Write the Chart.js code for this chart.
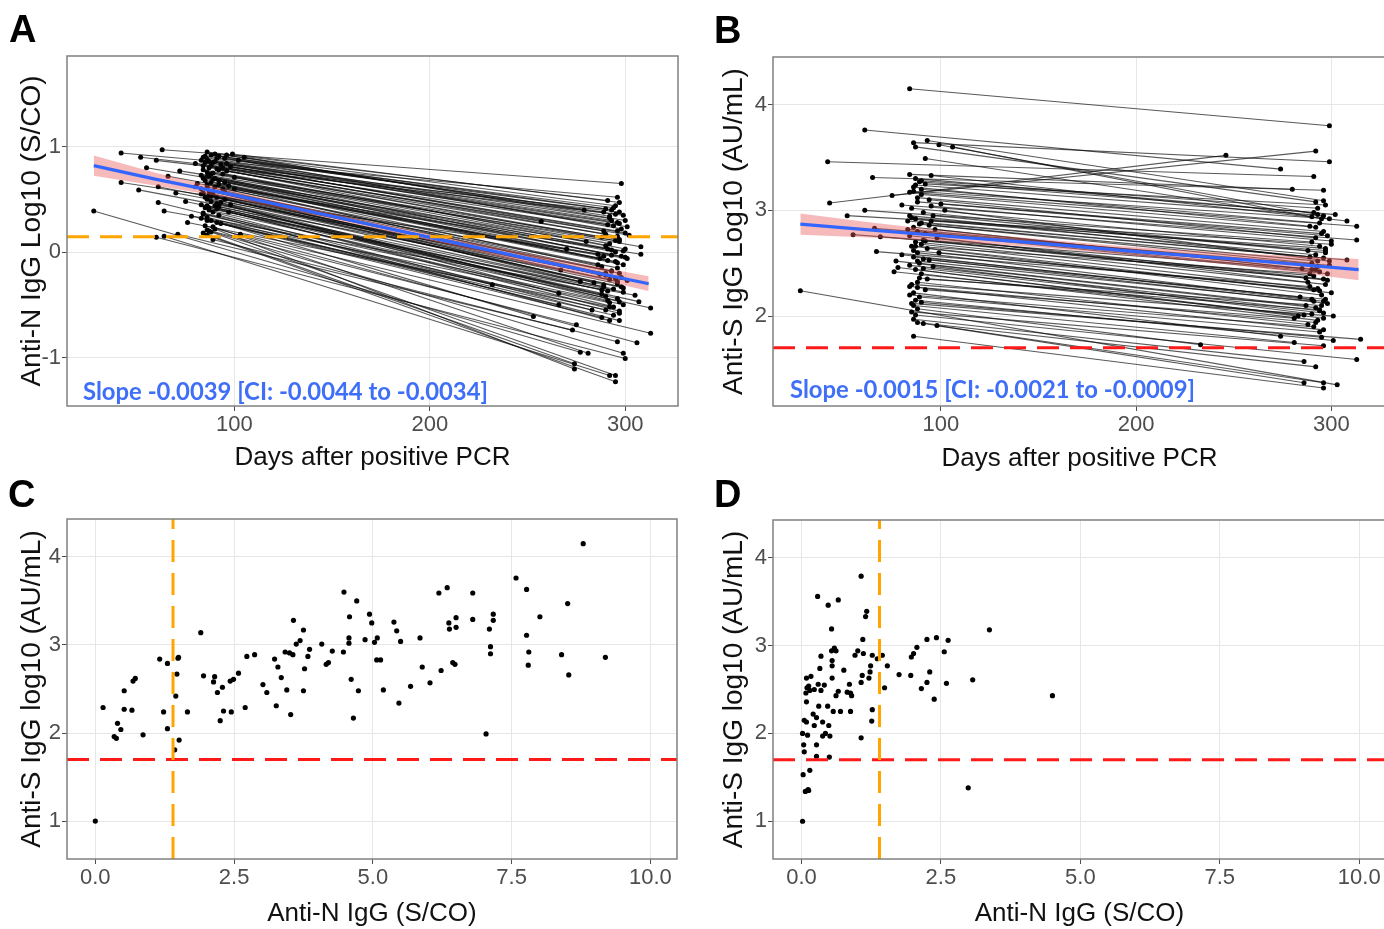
<!DOCTYPE html>
<html><head><meta charset="utf-8">
<script src="https://cdn.jsdelivr.net/npm/chart.js@4.4.1/dist/chart.umd.min.js"></script>
<style>
html,body{margin:0;padding:0;background:#fff;overflow:hidden;width:1384px;height:929px;position:relative;}
canvas{position:absolute;}
.lbl{position:absolute;font-family:'Liberation Sans',Arial,sans-serif;font-weight:bold;font-size:38px;line-height:1;color:#000;z-index:5;}
</style></head><body>
<canvas id="cA" width="700" height="475" style="left:0;top:0"></canvas>
<canvas id="cB" width="690" height="475" style="left:700px;top:0"></canvas>
<canvas id="cC" width="700" height="459" style="left:0;top:470px"></canvas>
<canvas id="cD" width="690" height="459" style="left:700px;top:470px"></canvas>
<div class="lbl" style="left:9px;top:10px">A</div>
<div class="lbl" style="left:714px;top:11px">B</div>
<div class="lbl" style="left:8px;top:475px">C</div>
<div class="lbl" style="left:714px;top:475px">D</div>
<script>
// ---------- Panel A: anti-N IgG (log10 S/CO), paired samples ----------
const aDay1 = [63,42,99,86,88,52,84,92,60,86, 95,90,80,102,85,88,93,72,87,98, 84,91,86,89,96,83,42,81,87,94, 90,100,51,61,85,88,92,86,97,83,
  89,61,84,95,87,91,86,64,88,93, 83,90,85,98,87,76,89,84,92,86, 88,91,86,71,103,85,28,89,87,60, 84,90,64,88,86,90,83,96,88,84,
  92,86,94,89,85,91,87,83,93,89, 55,66,70,75,78,105,100,97,80,84, 91,87,95,86,92,
  85,89,94,86,90,88,92,84,95,87, 83,91,96,89,86];
const aVal1 = [0.97,0.94,0.93,0.95,0.92,0.90,0.90,0.91,0.87,0.88, 0.89,0.86,0.84,0.87,0.85,0.82,0.83,0.77,0.80,0.81,
  0.78,0.79,0.76,0.75,0.77,0.73,0.66,0.65,0.72,0.74, 0.70,0.71,0.59,0.62,0.68,0.66,0.64,0.62,0.63,0.60,
  0.58,0.47,0.56,0.57,0.54,0.52,0.50,0.39,0.48,0.47, 0.45,0.44,0.42,0.45,0.40,0.28,0.38,0.36,0.35,0.33,
  0.30,0.28,0.21,0.17,0.17,0.25,0.39,0.24,0.20,0.14, 0.18,0.22,0.15,0.19,0.16,0.93,0.87,0.84,0.74,0.70,
  0.68,0.64,0.60,0.55,0.52,0.46,0.42,0.32,0.27,0.12, 0.80,0.72,0.56,0.48,0.34,0.90,0.60,0.38,0.62,0.82, 0.89,0.58,0.50,0.44,0.78,
  0.91,0.85,0.80,0.72,0.62,0.53,0.43,0.37,0.66,0.86, 0.55,0.41,0.92,0.69,0.30];
const aDay2 = [298,296,297,291,290,297,292,279,295,293, 289,296,257,298,300,294,302,295,288,296, 292,300,308,291,297,270,301,308,295,290,
  298,293,267,287,296,291,299,295,288,277, 284,232,293,297,290,296,266,305,291,297, 307,294,299,289,313,292,283,297,292,297,
  253,266,275,273,313,306,277,281,299,300, 274,274,292,295,295,295,299,291,297,293, 300,289,296,292,298,290,296,294,290,296,
  280,286,290,288,292,300,298,294,286,289, 293,301,299,288,296,
  294,297,290,299,293,296,291,299,287,301, 289,297,292,295,288];
const aVal2 = [0.65,0.52,0.47,0.49,0.41,0.38,0.32,0.40,0.36,0.30, 0.38,0.28,0.29,0.22,0.18,0.25,0.16,0.11,0.14,0.20,
  0.08,0.03,0.05,0.03,0.10,0.03,-0.06,-0.02,0.00,0.06, -0.04,-0.03,-0.17,-0.21,-0.10,-0.08,-0.12,-0.25,-0.14,-0.28,
  -0.29,-0.31,-0.18,-0.20,-0.22,-0.30,-0.39,-0.41,-0.46,-0.47, -0.47,-0.35,-0.38,-0.33,-0.53,-0.52,-0.55,-0.58,-0.65,-0.65,
  -0.61,-0.50,-0.69,-0.74,-0.77,-0.86,-0.95,-0.96,-0.96,-1.01, -1.06,-1.11,-1.17,-1.17,-1.23,0.44,0.35,0.26,0.12,0.02,
  -0.05,-0.04,-0.15,-0.26,-0.33,-0.42,-0.44,-0.60,-0.55,-0.85, 0.10,-0.02,-0.20,-0.36,-0.48,0.30,-0.24,-0.52,-0.12,0.20,
  0.40,-0.27,-0.34,-0.40,0.15,
  0.42,0.27,0.17,0.01,-0.18,-0.28,-0.37,-0.50,-0.06,0.24, -0.31,-0.56,0.34,-0.09,-0.62];
const regADays = [28,60,100,150,200,250,312];
const regAFit  = [0.82,0.69,0.54,0.34,0.14,-0.06,-0.30];
const regALo   = [0.725,0.63,0.505,0.315,0.11,-0.105,-0.37];
const regAHi   = [0.915,0.75,0.575,0.365,0.17,-0.015,-0.23];
const cutoffNLog = 0.146;   // log10(1.4)
const aTicksX = [100,200,300];
const aTicksY = [-1,0,1];
const slopeA = 'Slope -0.0039 [CI: -0.0044 to -0.0034]';

// ---------- Panel B: anti-S IgG (log10 AU/mL), paired samples ----------
const bDay1 = [84,61,42,86,87,93,99,106,92,43, 75,65,84,87,89,92,95,86,90,84, 88,94,100,80,61,85,91,96,52,87,
  83,90,94,66,86,88,92,69,84,98, 55,87,90,85,67,93,88,80,86,91, 77,89,84,78,96,87,76,90,85,88,
  92,86,84,89,87,85,86,88,85,87, 86,88,91,98,86,28,88,93,99,95, 84,88,102,91,83,94,90,86,97,89,
  87,90,85,89,92,86,88,91,84,90, 95,87];
const bVal1 = [4.15,3.76,3.46,3.64,3.60,3.66,3.62,3.60,3.49,3.07, 3.14,3.31,3.34,3.30,3.27,3.25,3.33,3.22,3.20,3.17,
  3.12,3.10,3.06,3.05,3.00,3.02,2.98,2.95,2.95,2.92, 2.90,2.88,2.86,2.83,2.84,2.80,2.78,2.75,2.76,2.74,
  2.77,2.70,2.68,2.66,2.61,2.64,2.60,2.58,2.56,2.54, 2.52,2.50,2.48,2.46,2.47,2.44,2.42,2.40,2.30,2.27,
  2.25,2.22,2.20,2.18,2.15,2.12,2.10,2.07,2.04,2.01, 1.97,1.94,1.93,1.91,1.81,2.24,2.32,2.35,2.60,2.90,
  2.95,3.08,3.00,2.72,2.82,2.53,3.28,3.18,2.82,2.36,
  3.24,3.15,2.93,2.87,2.71,2.62,2.52,2.45,2.28,2.13, 3.04,2.66];
const bDay2 = [299,274,291,299,292,296,293,295,290,246, 292,296,280,302,291,297,308,289,294,313, 296,292,298,313,290,294,288,297,300,292,
  308,296,290,299,285,294,298,291,296,288, 292,297,293,300,289,295,290,296,284,298, 292,287,294,283,290,296,286,293,301,296,
  281,274,291,294,301,315,281,233,296,313, 286,292,296,286,296,303,288,295,291,297, 289,295,299,287,293,297,293,299,290,294,
  296,292,297,293,298,294,291,296,292,295, 300,289];
const bVal2 = [3.80,3.39,3.32,3.46,3.08,3.09,2.96,2.92,2.94,3.52, 3.56,3.19,3.20,2.96,2.98,3.05,2.90,2.85,2.88,2.85,
  2.80,2.74,2.76,2.72,2.70,2.66,2.62,2.60,2.68,2.58, 2.53,2.55,2.50,2.48,2.45,2.42,2.40,2.38,2.35,2.32,
  2.44,2.30,2.26,2.22,2.28,2.20,2.16,2.14,2.18,2.12, 2.08,2.10,2.05,2.00,2.02,1.98,2.01,1.96,2.00,1.87,
  1.98,1.81,1.90,1.85,1.77,1.78,1.75,1.73,1.72,1.59, 1.57,1.52,1.37,1.37,1.32,1.35,1.92,2.10,2.25,2.64,
  2.56,2.78,2.52,2.36,2.47,2.16,3.02,2.92,2.44,2.06,
  2.95,2.84,2.62,2.52,2.34,2.24,2.14,2.03,1.94,1.80, 2.71,2.40];
const regBDays = [28,60,100,150,200,250,314];
const regBFit  = [2.87,2.82,2.76,2.69,2.61,2.54,2.44];
const regBLo   = [2.77,2.745,2.71,2.65,2.57,2.485,2.34];
const regBHi   = [2.97,2.895,2.81,2.73,2.65,2.595,2.54];
const cutoffSLog = 1.7;    // log10(50)
const bTicksX = [100,200,300];
const bTicksY = [2,3,4];
const slopeB = 'Slope -0.0015 [CI: -0.0021 to -0.0009]';

// ---------- Panel C: anti-S vs anti-N, first sample ----------
const cX = [0.00,0.14,0.34,0.38,0.40,0.46,0.52,0.52,0.66,0.68,0.72,0.86,1.16,1.23,1.30,1.30,1.43,1.45,1.47,1.49,1.50,1.51,1.66,
  1.90,1.95,2.13,2.15,2.20,2.25,2.29,2.31,2.43,2.45,2.49,2.58,2.70,2.73,2.87,3.02,3.09,3.23,3.26,3.29,3.35,3.42,3.45,3.50,3.52,
  3.56,3.57,3.62,3.69,3.75,3.75,3.77,3.83,3.86,4.08,4.16,4.20,4.27,4.47,4.48,4.57,4.57,4.58,4.61,4.65,4.71,4.74,4.86,4.94,4.98,
  5.03,5.08,5.07,5.14,5.19,5.38,5.43,5.47,5.50,5.68,5.85,5.89,6.03,6.19,6.23,6.34,6.37,6.38,6.44,6.48,6.50,6.50,6.80,6.80,
  7.04,7.10,7.12,7.12,7.17,7.17,7.58,7.77,7.77,7.81,7.80,8.01,8.40,8.51,8.53,8.79,9.19];
const cY = [1.00,2.29,1.96,1.94,2.11,2.04,2.48,2.27,2.26,2.59,2.62,1.98,2.84,2.24,2.05,2.79,1.81,2.42,2.67,2.85,2.86,1.92,2.24,
  3.14,2.65,2.58,2.64,2.46,2.14,2.52,2.25,2.59,2.24,2.61,2.68,2.29,2.87,2.89,2.55,2.46,2.84,2.31,2.75,2.63,2.92,2.49,2.91,2.21,
  2.89,3.28,3.01,3.05,3.17,2.48,2.73,2.87,2.95,3.01,2.78,2.80,2.93,2.92,3.60,3.02,3.08,3.32,2.61,2.17,3.50,2.48,3.06,3.35,3.25,
  3.03,3.08,2.83,2.83,2.49,3.26,3.16,2.34,3.04,2.53,3.08,2.75,2.57,3.59,2.71,3.65,3.25,3.18,2.80,2.78,3.31,3.20,3.59,3.29,
  1.99,3.18,2.98,2.90,3.35,3.28,3.76,3.63,3.11,2.92,2.77,3.32,2.89,3.47,2.66,4.15,2.86];

// ---------- Panel D: anti-S vs anti-N, second sample ----------
const dX = [0.02,0.03,0.07,0.12,0.13,0.15,0.05,0.04,0.02,0.05,0.09,0.11,0.09,0.08,0.10,0.13,0.09,0.17,0.15,0.23,0.21,0.23,0.27,
  0.27,0.27,0.31,0.29,0.30,0.33,0.35,0.35,0.38,0.38,0.41,0.43,0.48,0.47,0.49,0.51,0.50,0.54,0.54,0.55,0.55,0.55,0.57,0.59,0.62,
  0.62,0.66,0.66,0.70,0.76,0.82,0.88,0.88,0.86,0.90,0.96,1.01,1.07,1.07,1.07,1.09,1.10,1.11,1.15,1.17,1.21,1.23,1.24,1.26,1.27,
  1.27,1.36,1.45,1.49,1.54,1.75,1.96,1.97,2.01,2.07,2.15,2.25,2.25,2.30,2.38,2.42,2.56,2.60,2.63,2.99,3.07,3.37,4.50];
const dY = [1.00,1.53,1.34,1.36,1.35,1.58,1.79,1.87,2.00,2.15,2.13,1.98,2.36,2.46,2.52,2.54,2.63,2.65,2.49,2.50,2.22,2.09,1.87,
  1.74,2.18,2.31,3.56,2.56,2.74,2.88,2.49,2.13,1.97,2.55,2.00,3.46,2.31,2.09,1.97,1.73,3.19,2.94,2.83,2.77,2.63,2.25,2.97,2.94,
  2.43,3.52,2.48,2.25,2.72,2.47,2.46,2.25,2.56,2.43,2.89,2.94,3.79,1.95,2.58,2.66,3.07,2.91,3.33,3.39,2.63,2.70,2.77,2.14,2.27,
  2.89,2.85,2.89,2.52,2.77,2.67,2.66,2.87,2.91,2.98,2.51,3.07,2.58,2.70,2.39,3.09,2.93,2.57,3.06,1.38,2.61,3.18,2.43];
const cutoffN = 1.4;
const cdTicksX = [0,2.5,5,7.5,10];
const cdTicksY = [1,2,3,4];

// ---------- helpers ----------
Chart.defaults.font.family = "'Liberation Sans', Arial, sans-serif";
Chart.defaults.animation = false;

const boxPlugin = {
  id: 'box',
  afterDraw(chart, args, opts) {
    const {ctx, chartArea: a} = chart;
    ctx.save();
    ctx.strokeStyle = '#808080';
    ctx.lineWidth = 1.5;
    ctx.strokeRect(a.left, a.top, a.right - a.left, a.bottom - a.top);
    if (opts.text) {
      ctx.font = "bold 20px Lato, 'Open Sans', sans-serif";
      const w = ctx.measureText(opts.text).width;
      const size = 20 * opts.width / w;
      ctx.font = "bold " + size.toFixed(2) + "px Lato, 'Open Sans', sans-serif";
      ctx.fillStyle = '#3f6ff8';
      ctx.textBaseline = 'alphabetic';
      ctx.textAlign = 'left';
      ctx.fillText(opts.text, a.left + opts.dx, a.bottom - opts.dy);
    }
    ctx.restore();
  }
};

function axis(min, max, ticks, fmt, title, titleSize, titlePad, size, isX) {
  return {
    type: 'linear', min, max,
    afterBuildTicks: s => { s.ticks = ticks.map(v => ({value: v})); },
    afterFit: s => { if (isX) s.height = size; else s.width = size; },
    ticks: {font: {size: 22}, color: '#4d4d4d', padding: 1, callback: fmt, maxRotation: 0, autoSkip: false},
    grid: {color: '#e6e6e6', lineWidth: 1, tickColor: '#4d4d4d', tickLength: 5, drawTicks: true},
    border: {display: false},
    title: {display: true, text: title, font: {size: titleSize}, color: '#111', padding: titlePad}
  };
}

function pairSets(d1, v1, d2, v2) {
  return d1.map((_, i) => ({
    data: [{x: d1[i], y: v1[i]}, {x: d2[i], y: v2[i]}],
    borderColor: 'rgba(10,10,10,0.68)', borderWidth: 1.1, pointRadius: 2.5,
    pointBackgroundColor: '#000', pointBorderWidth: 0, order: 10
  }));
}
function regSets(days, fit, lo, hi) {
  return [
    {data: days.map((d, i) => ({x: d, y: fit[i]})), borderColor: '#3366FF', borderWidth: 3.2, pointRadius: 0, order: 2},
    {data: days.map((d, i) => ({x: d, y: lo[i]})), borderWidth: 0, borderColor: 'rgba(0,0,0,0)', pointRadius: 0, fill: false, order: 5},
    {data: days.map((d, i) => ({x: d, y: hi[i]})), borderWidth: 0, borderColor: 'rgba(0,0,0,0)', pointRadius: 0, fill: '-1', backgroundColor: 'rgba(235,90,90,0.42)', order: 5}
  ];
}
function hLine(y, x0, x1, color) {
  return {data: [{x: x0, y: y}, {x: x1, y: y}], borderColor: color, borderWidth: 3, borderDash: [22, 11], pointRadius: 0, order: 1};
}
function vLine(x, y0, y1, color) {
  return {data: [{x: x, y: y0}, {x: x, y: y1}], borderColor: color, borderWidth: 3, borderDash: [22, 11], pointRadius: 0, order: 1};
}
function scatterSet(xs, ys) {
  return {data: xs.map((x, i) => ({x: x, y: ys[i]})), showLine: false, pointRadius: 2.6, pointBackgroundColor: '#000', pointBorderWidth: 0, borderColor: '#000', order: 5};
}
function make(id, datasets, scales, padding, boxOpts) {
  return new Chart(document.getElementById(id), {
    type: 'line',
    data: {datasets},
    options: {
      responsive: false, events: [], parsing: true,
      layout: {padding},
      elements: {line: {tension: 0}},
      plugins: {legend: {display: false}, tooltip: {enabled: false}, box: boxOpts},
      scales
    },
    plugins: [boxPlugin]
  });
}
const intFmt = v => String(v);
const decFmt = v => v.toFixed(1);

// Panel A
const aXmin = 14.3, aXmax = 327, aYmin = -1.46, aYmax = 1.86;
make('cA',
  [hLine(cutoffNLog, aXmin, aXmax, '#FFA500'), ...regSets(regADays, regAFit, regALo, regAHi), ...pairSets(aDay1, aVal1, aDay2, aVal2)],
  {x: axis(aXmin, aXmax, aTicksX, intFmt, 'Days after positive PCR', 26, {top: 0, bottom: 2}, 69, true),
   y: axis(aYmin, aYmax, aTicksY, intFmt, 'Anti-N IgG Log10 (S/CO)', 28, {top: 15, bottom: 0}, 67, false)},
  {left: 0, right: 22, top: 56, bottom: 0},
  {text: slopeA, dx: 16, dy: 6, width: 405});

// Panel B
const bXmin = 14, bXmax = 328, bYmin = 1.15, bYmax = 4.45;
make('cB',
  [hLine(cutoffSLog, bXmin, bXmax, '#FF1A1A'), ...regSets(regBDays, regBFit, regBLo, regBHi), ...pairSets(bDay1, bVal1, bDay2, bVal2)],
  {x: axis(bXmin, bXmax, bTicksX, intFmt, 'Days after positive PCR', 26, {top: 0, bottom: 1}, 69, true),
   y: axis(bYmin, bYmax, bTicksY, intFmt, 'Anti-S IgG Log10 (AU/mL)', 28, {top: 17, bottom: 0}, 73, false)},
  {left: 0, right: 4, top: 57, bottom: 0},
  {text: slopeB, dx: 17, dy: 8, width: 405});

// Panel C
const cdXmin = -0.51, cdXmax = 10.48, cdYmin = 0.57, cdYmax = 4.43;
make('cC',
  [vLine(cutoffN, cdYmin, cdYmax, '#FFA500'), hLine(cutoffSLog, cdXmin, cdXmax, '#FF1A1A'), scatterSet(cX, cY)],
  {x: axis(cdXmin, cdXmax, cdTicksX, decFmt, 'Anti-N IgG (S/CO)', 26, {top: 0, bottom: 0}, 70, true),
   y: axis(cdYmin, cdYmax, cdTicksY, intFmt, 'Anti-S IgG log10 (AU/mL)', 28, {top: 15, bottom: 0}, 67, false)},
  {left: 0, right: 23, top: 49, bottom: 0},
  {});

// Panel D
make('cD',
  [vLine(cutoffN, cdYmin, cdYmax, '#FFA500'), hLine(cutoffSLog, cdXmin, cdXmax, '#FF1A1A'), scatterSet(dX, dY)],
  {x: axis(cdXmin, cdXmax, cdTicksX, decFmt, 'Anti-N IgG (S/CO)', 26, {top: 0, bottom: 0}, 70, true),
   y: axis(cdYmin, cdYmax, cdTicksY, intFmt, 'Anti-S IgG log10 (AU/mL)', 28, {top: 17, bottom: 0}, 73, false)},
  {left: 0, right: 4, top: 50, bottom: 0},
  {});
</script>
</body></html>
